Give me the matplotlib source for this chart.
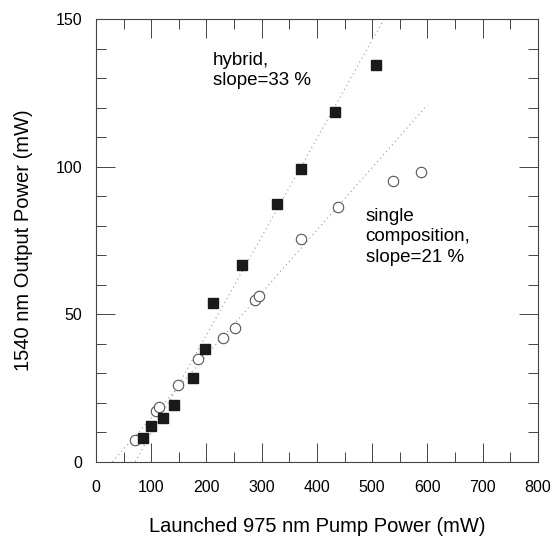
import matplotlib
matplotlib.use("Agg")
import matplotlib.pyplot as plt
from matplotlib.ticker import MultipleLocator

plt.rcParams["font.family"] = ["Liberation Sans", "DejaVu Sans"]

# hybrid fiber (filled squares)
hybrid_pump = [86, 99, 122, 141, 175, 198, 212, 265, 328, 372, 432, 506]
hybrid_out = [8.1, 12.1, 14.8, 19.1, 28.3, 38.2, 53.7, 66.8, 87.3, 99.3, 118.7, 134.7]

# single composition fiber (open circles)
single_pump = [70, 109, 114, 149, 185, 230, 251, 288, 295, 372, 439, 538, 588]
single_out = [7.4, 17.2, 18.5, 26.1, 34.8, 41.8, 45.5, 54.7, 56.3, 75.7, 86.4, 95.2, 98.1]

# fitted lines (end points)
hybrid_fit_x = [71, 521]
hybrid_fit_y = [0, 150]
single_fit_x = [30, 600]
single_fit_y = [0, 121.0]

fig = plt.figure(figsize=(5.58, 5.40), dpi=100)
ax = fig.add_axes([0.172, 0.145, 0.792, 0.819])

ax.plot(hybrid_fit_x, hybrid_fit_y, ls=(0, (1, 3)), color="#999999", lw=0.8)
ax.plot(single_fit_x, single_fit_y, ls=(0, (1, 3)), color="#999999", lw=0.8)

ax.plot(single_pump, single_out, "o", ms=7.5, mfc="white", mec="#555555", mew=0.8)
ax.plot(hybrid_pump, hybrid_out, "s", ms=7, mfc="#1a1a1a", mec="#1a1a1a")

ax.set_xlim(0, 800)
ax.set_ylim(0, 150)
ax.xaxis.set_major_locator(MultipleLocator(100))
ax.xaxis.set_minor_locator(MultipleLocator(50))
ax.yaxis.set_major_locator(MultipleLocator(50))
ax.yaxis.set_minor_locator(MultipleLocator(10))
ax.tick_params(which="both", direction="in", top=True, right=True,
               color="#444444", width=0.7, labelsize=11.5)
ax.tick_params(axis="x", pad=13)
ax.tick_params(axis="y", pad=10)
ax.tick_params(which="major", length=14)
ax.tick_params(which="minor", length=7)
for s in ax.spines.values():
    s.set_color("#444444")
    s.set_linewidth(0.8)

ax.text(212, 139, "hybrid,\nslope=33 %", fontsize=13.5, va="top", linespacing=1.25)
ax.text(488, 86, "single\ncomposition,\nslope=21 %", fontsize=13.5, va="top", linespacing=1.25)

ax.set_xlabel("Launched 975 nm Pump Power (mW)", fontsize=14.5, labelpad=16)
ax.set_ylabel("1540 nm Output Power (mW)", fontsize=14.5, labelpad=16)

fig.savefig("out.png", dpi=100)
